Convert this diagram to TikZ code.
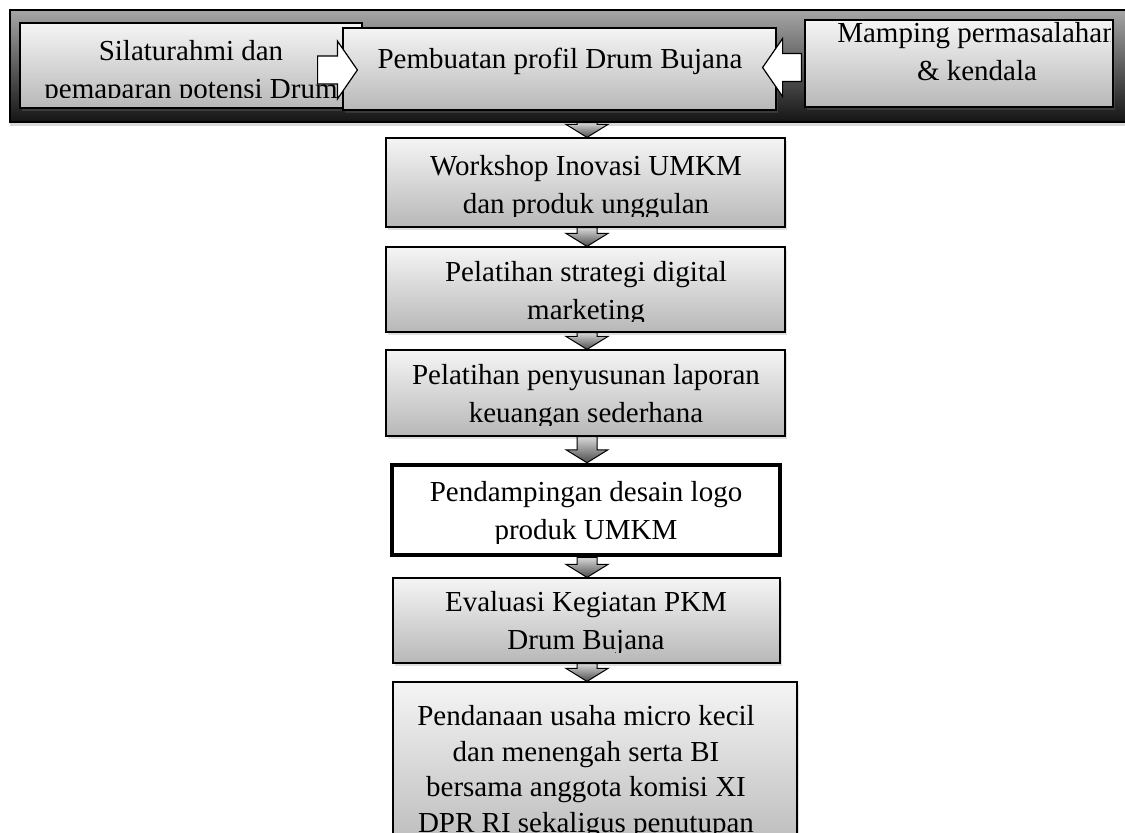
\documentclass[tikz,border=0pt]{standalone}
\usepackage{fontspec}
\setmainfont{Liberation Serif}
\usetikzlibrary{calc,shadows}

\tikzset{
  barbox/.style={draw=black, line width=1.2pt, top color=black!35, bottom color=black!92,
    inner sep=0pt, drop shadow={opacity=0.3, shadow xshift=0pt, shadow yshift=-4pt}},
  stepbox/.style={draw=black, line width=1.2pt, top color=black!4, bottom color=black!28,
    inner sep=0pt, drop shadow={opacity=0.25, shadow xshift=2pt, shadow yshift=-3pt}},
  logobox/.style={draw=black, line width=4.5pt, fill=white, inner sep=0pt},
  steptext/.style={font=\fontsize{29}{38}\selectfont, align=center, inner sep=0pt, anchor=base},
  downarrow/.style={draw=black, line width=1pt, top color=black!15, bottom color=black!70},
  sidearrow/.style={draw=black, line width=1.2pt, fill=white},
}

% block arrow pointing down, from #1 to #2
\newcommand{\downblock}[2]{%
  \path[downarrow] let \p1=(#1), \p2=(#2) in
    ({\x1-10pt},\y1) -- ({\x1+10pt},\y1) -- ({\x1+10pt},{\y2+13pt}) -- ({\x1+21pt},{\y2+13pt})
    -- (\x1,\y2) -- ({\x1-21pt},{\y2+13pt}) -- ({\x1-10pt},{\y2+13pt}) -- cycle;}
% block arrow sideways, from #1 to #2, #3 = -1 right, 1 left
\newcommand{\sideblock}[3]{%
  \path[sidearrow] let \p1=(#1), \p2=(#2) in
    (\x1,{\y1+14pt}) -- ({\x2+(#3)*20pt},{\y1+14pt}) -- ({\x2+(#3)*20pt},{\y1+29pt}) -- (\x2,\y2)
    -- ({\x2+(#3)*20pt},{\y1-29pt}) -- ({\x2+(#3)*20pt},{\y1-14pt}) -- (\x1,{\y1-14pt}) -- cycle;}

\begin{document}
\begin{tikzpicture}[x=1pt,y=-1pt]
\useasboundingbox (0,0) rectangle (1125,833);
\clip (0,0) rectangle (1125,833);

% top row
\node[barbox, minimum width=1130pt, minimum height=112pt] (bar) at (575,66) {};

\node[stepbox, minimum width=342pt, minimum height=85pt] (sil) at (191,65.5) {};
\begin{scope}
  \clip ([shift={(3,3)}]sil.north west) rectangle ([shift={(-3,-11)}]sil.south east);
  \node[steptext] (silt) at (191,98) {Silaturahmi dan\\pemaparan potensi Drum};
\end{scope}

\node[stepbox, minimum width=433pt, minimum height=82pt] (pro) at (559.5,69) {};
\begin{scope}
  \clip ([shift={(3,3)}]pro.north west) rectangle ([shift={(-3,-12)}]pro.south east);
  \node[steptext] (prot) at (560,68) {Pembuatan profil Drum Bujana};
\end{scope}

\node[stepbox, minimum width=308pt, minimum height=87pt] (map) at (959,63.5) {};
\begin{scope}
  \clip ([shift={(3,0)}]map.north west) rectangle ([shift={(-3,-10)}]map.south east);
  \node[steptext] (mapt) at (977,80) {Mamping permasalahan\\\& kendala};
\end{scope}

\coordinate (r0) at ($(sil.east)+(-45,4.5)$);
\coordinate (r1) at ($(pro.west)+(15,1)$);
\coordinate (l0) at ($(map.west)+(-3,4)$);
\coordinate (l1) at ($(pro.east)+(-14,-1.5)$);
\sideblock{r0}{r1}{-1}
\sideblock{l0}{l1}{1}

% steps going down
\node[stepbox, minimum width=399pt, minimum height=89pt] (wk) at (585.5,182.5) {};
\begin{scope}
  \clip ([shift={(3,3)}]wk.north west) rectangle ([shift={(-3,-11)}]wk.south east);
  \node[steptext] (wkt) at (586,213) {Workshop Inovasi UMKM\\dan produk unggulan};
\end{scope}

\node[stepbox, minimum width=399pt, minimum height=85pt] (dm) at (585.5,289.5) {};
\begin{scope}
  \clip ([shift={(3,3)}]dm.north west) rectangle ([shift={(-3,-11)}]dm.south east);
  \node[steptext] (dmt) at (586,319) {Pelatihan strategi digital\\marketing};
\end{scope}

\node[stepbox, minimum width=399pt, minimum height=86pt] (lk) at (585.5,393) {};
\begin{scope}
  \clip ([shift={(3,3)}]lk.north west) rectangle ([shift={(-3,-11)}]lk.south east);
  \node[steptext] (lkt) at (586,422) {Pelatihan penyusunan laporan\\keuangan sederhana};
\end{scope}

\node[logobox, minimum width=388pt, minimum height=90pt] (logo) at (586,510) {};
\begin{scope}
  \clip ([shift={(3,3)}]logo.north west) rectangle ([shift={(-3,-14)}]logo.south east);
  \node[steptext] (logot) at (586,539) {Pendampingan desain logo\\produk UMKM};
\end{scope}

\node[stepbox, minimum width=387pt, minimum height=85pt] (ev) at (586.5,620.5) {};
\begin{scope}
  \clip ([shift={(3,3)}]ev.north west) rectangle ([shift={(-3,-11)}]ev.south east);
  \node[steptext] (evt) at (586,649) {Evaluasi Kegiatan PKM\\Drum Bujana};
\end{scope}

\node[stepbox, minimum width=404pt, minimum height=178pt] (dana) at (595,771) {};
\begin{scope}
  \clip ([shift={(3,3)}]dana.north west) rectangle ([shift={(-3,-12)}]dana.south east);
  \node[steptext, font=\fontsize{29}{35.5}\selectfont] (danat) at (586,832)
    {Pendanaan usaha micro kecil\\dan menengah serta BI\\bersama anggota komisi XI\\DPR RI sekaligus penutupan};
\end{scope}

\coordinate (ax) at (587,0);
\downblock{bar.south -| ax}{wk.north -| ax}
\downblock{wk.south -| ax}{dm.north -| ax}
\downblock{dm.south -| ax}{lk.north -| ax}
\downblock{lk.south -| ax}{logo.north -| ax}
\downblock{logo.south -| ax}{ev.north -| ax}
\downblock{ev.south -| ax}{dana.north -| ax}
\end{tikzpicture}
\end{document}
